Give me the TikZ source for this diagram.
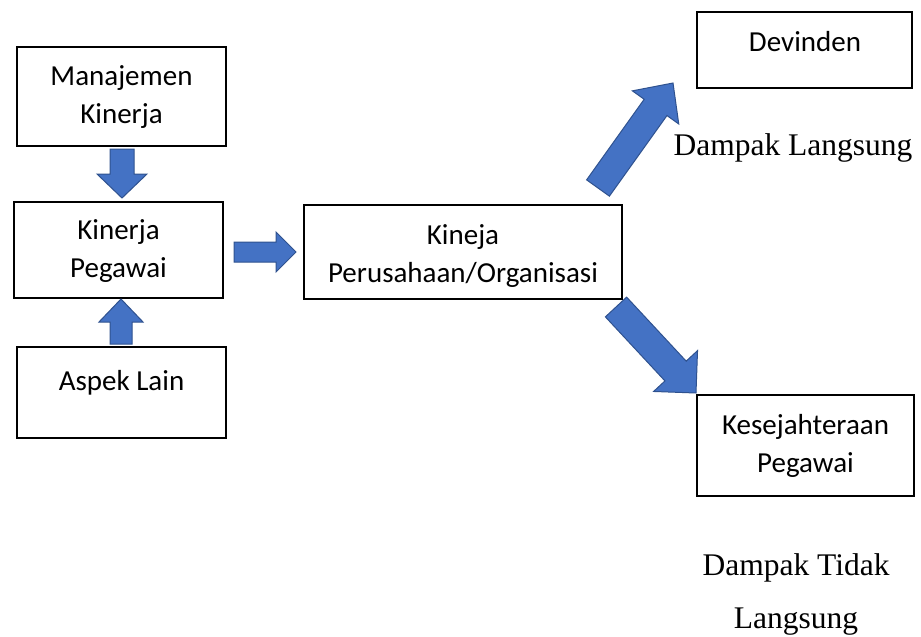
\documentclass[tikz,border=0pt]{standalone}
\usepackage{fontspec}
\setmainfont{Carlito}
\newfontfamily\serifTNR{Liberation Serif}
\usetikzlibrary{calc}
\definecolor{arrfill}{HTML}{4472C4}
\definecolor{arrline}{HTML}{2F528F}
\tikzset{
  box/.style={draw=black, line width=1.6pt, rectangle, inner sep=0pt},
  boxtext/.style={align=center, inner sep=0pt, font=\fontsize{29}{38}\selectfont},
  note/.style={inner sep=0pt, anchor=base, font=\serifTNR\fontsize{31.5}{52}\selectfont},
  blockarrow/.style={fill=arrfill, draw=arrline, line width=1pt, line join=miter},
}
\newcommand{\blockarr}[5]{%
  \coordinate (ba-h) at ($(#2)!#5!(#1)$);
  \filldraw[blockarrow] ($(#1)!#3!90:(#2)$) -- ($(ba-h)!#3!90:(#2)$) -- ($(ba-h)!#4!90:(#2)$) -- (#2) -- ($(ba-h)!#4!-90:(#2)$) -- ($(ba-h)!#3!-90:(#2)$) -- ($(#1)!#3!-90:(#2)$) -- cycle;
}
\begin{document}
\begin{tikzpicture}[x=1pt,y=-1pt]
\useasboundingbox (0,0) rectangle (921,637);
% boxes
\node[box, minimum width=209pt, minimum height=99pt] (man) at (121.5,96.5) {};
\node[box, minimum width=209pt, minimum height=96pt] (peg) at (118.5,250) {};
\node[box, minimum width=209pt, minimum height=91pt] (asp) at (121.5,392.5) {};
\node[box, minimum width=318pt, minimum height=94pt] (org) at (463,252) {};
\node[box, minimum width=215pt, minimum height=76pt] (dev) at (804.5,50) {};
\node[box, minimum width=217pt, minimum height=101pt] (kes) at (805.5,445.5) {};
% texts
\node[boxtext] (tman) at (121.5,97) {Manajemen\\Kinerja};
\node[boxtext] (tpeg) at (118.5,251) {Kinerja\\Pegawai};
\node[boxtext] (tasp) at (121.5,383) {Aspek Lain};
\node[boxtext] (torg) at (463,256) {Kineja\\Perusahaan/Organisasi};
\node[boxtext] (tdev) at (805,42) {Devinden};
\node[boxtext] (tkes) at (805.5,446) {Kesejahteraan\\Pegawai};
\node[note] (nl) at (793,155) {Dampak Langsung};
\node[note] (ntl1) at (796,575) {Dampak Tidak};
\node[note] (ntl2) at (796,628) {Langsung};
% arrow end points
\coordinate (a1s) at (122,149);
\coordinate (a1e) at (122,198);
\coordinate (a2s) at (121,344);
\coordinate (a2e) at (121,299);
\coordinate (a3s) at (234,252);
\coordinate (a3e) at (296,252);
\coordinate (a4s) at (598,188);
\coordinate (a4e) at (673,83);
\coordinate (a5s) at (616,307);
\coordinate (a5e) at (696,393);
% block arrows
\blockarr{a1s}{a1e}{12pt}{25pt}{24pt}
\blockarr{a2s}{a2e}{11pt}{22pt}{23pt}
\blockarr{a3s}{a3e}{10pt}{20pt}{20pt}
\blockarr{a4s}{a4e}{14pt}{28.5pt}{30pt}
\blockarr{a5s}{a5e}{14.5pt}{30pt}{30pt}
\end{tikzpicture}
\end{document}
